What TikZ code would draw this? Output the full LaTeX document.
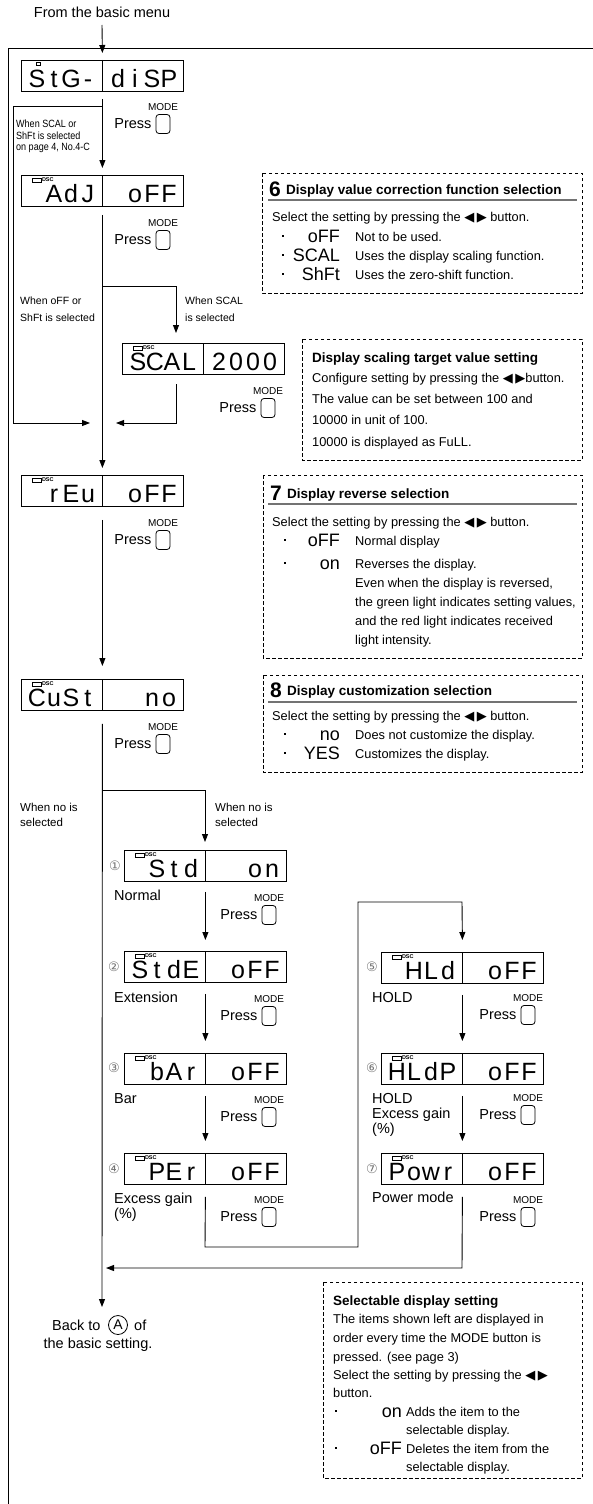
\documentclass[tikz,border=0pt]{standalone}
\usepackage{fontspec}
\usepackage{graphicx}
\setmainfont{Liberation Sans}
\newfontfamily\djv{DejaVu Sans}
\usetikzlibrary{arrows.meta,calc}
\newcommand\fsz[1]{\fontsize{#1pt}{#1pt}\selectfont}
\newcommand\sg[4]{\makebox[17pt]{#1}\makebox[17pt]{#2}\makebox[17pt]{#3}\makebox[17pt]{#4}}
\newcommand\lr{{\djv\fsz{13}◀\hspace{2.5pt}▶}}
\tikzset{
  ln/.style={line width=0.9pt},
  arr/.style={line width=0.9pt,-{Triangle[length=8pt,width=6pt]}},
  dispbox/.style={draw,line width=0.8pt,minimum width=162pt,minimum height=31pt,inner sep=0pt,anchor=north west},
  segtxt/.style={inner sep=0pt,font=\fsz{25},anchor=base},
  segsm/.style={inner sep=0pt,font=\fsz{18},anchor=base east},
  btn/.style={draw,line width=0.8pt,rounded corners=3pt,minimum width=14pt,minimum height=19pt,inner sep=0pt},
  modelbl/.style={inner sep=0pt,font=\fsz{10}},
  presslbl/.style={inner sep=0pt,font=\fsz{14.5},anchor=east},
  lbl/.style={inner sep=0pt,font=\fsz{14.5},anchor=base west},
  small/.style={inner sep=0pt,font=\fsz{10.5},anchor=base west},
  smallc/.style={inner sep=0pt,font=\fsz{10.5},anchor=base west},
  bt/.style={inner sep=0pt,font=\fsz{12.8},anchor=base west},
  bth/.style={inner sep=0pt,font=\fsz{13.5}\bfseries,anchor=base west},
  num/.style={inner sep=0pt,font=\fsz{21}\bfseries,anchor=base west},
  dbox/.style={draw,line width=0.8pt,dash pattern=on 3.5pt off 2.5pt},
  dot/.style={fill,inner sep=0pt,minimum size=2.4pt},
  circnum/.style={inner sep=0pt,font=\djv\fsz{13},text=black!55},
  dsc/.style={inner sep=0pt,font=\fsz{5.5}\bfseries,anchor=west},
  uline/.style={line width=1.3pt,black!55},
}
\newcommand\disp[6]{%
  \node[dispbox] (#1) at (#2,#3) {};
  \draw[line width=0.8pt] ($(#1.north west)+(81,0)$) -- ($(#1.south west)+(81,0)$);
  \node[segtxt] (#1L) at ($(#1.north west)+(41.5,27)$) {\sg#4};
  \node[segtxt] (#1R) at ($(#1.north west)+(122.5,27)$) {\sg#5};
  \ifnum#6=1
    \draw[line width=0.6pt] ($(#1.north west)+(11,3)$) rectangle ($(#1.north west)+(20,7)$);
    \node[dsc] (#1D) at ($(#1.north west)+(20.8,4.8)$) {DSC};
  \fi
}
\newcommand\press[3]{%
  \node[btn] (#1) at (#2,#3) {};
  \node[modelbl] (#1m) at ($(#1)+(0,-17)$) {MODE};
  \node[presslbl] (#1p) at ($(#1.west)+(-4,0)$) {Press};
}
\begin{document}
\begin{tikzpicture}[x=1pt,y=-1pt]
\useasboundingbox (0,0) rectangle (593,1504);
% frame
\coordinate (fbl) at (8,1510);
\coordinate (ftl) at (8,48);
\coordinate (ftr) at (600,48);
\draw[ln] (fbl) -- (ftl) -- (ftr);

\node[lbl,anchor=base] (from) at (102,18) {From the basic menu};
\coordinate (top) at (102,25);

% ---------------- main column displays
\disp{d1}{21}{60}{{S}{t}{G}{-}}{{d}{i}{S}{P}}{0}
\draw[line width=0.6pt] (36,62) rectangle (40,65.5);
\disp{d2}{21}{175}{{}{A}{d}{J}}{{}{o}{F}{F}}{1}
\disp{d3}{122}{343}{{S}{C}{A}{L}}{{2}{0}{0}{0}}{1}
\disp{d4}{21}{475}{{}{r}{E}{u}}{{}{o}{F}{F}}{1}
\disp{d5}{21}{679}{{C}{u}{S}{t}}{{}{}{n}{o}}{1}

\press{p1}{163}{124}
\press{p2}{163}{240}
\press{p3}{268}{408}
\press{p4}{163}{540}
\press{p5}{163}{744}

\draw[arr] (top) -- ($(d1.north)+(0,-7)$);
\draw[arr] ($(d1.south)+(0,7)$) -- ($(d2.north)+(0,-7)$);
\coordinate (bl1) at (102,106);
\coordinate (bl2) at (13,106);
\coordinate (bl3) at (13,423);
\coordinate (bl4) at (90,423);
\draw[arr] (bl1) -- (bl2) -- (bl3) -- (bl4);
\node[smallc] (w1) at (16,127.5) {\scalebox{0.86}[1]{When SCAL or}};
\node[smallc] (w2) at (16,139) {\scalebox{0.86}[1]{ShFt is selected}};
\node[smallc] (w3) at (16,150.5) {\scalebox{0.86}[1]{on page 4, No.4-C}};

\draw[arr] ($(d2.south)+(0,8)$) -- ($(d4.north)+(0,-7)$);
\coordinate (sb1) at (102,286);
\coordinate (sb2) at (176,286);
\coordinate (sb3) at (176,333);
\draw[arr] (sb1) -- (sb2) -- (sb3);
\node[small] (w4) at (20,304) {When oFF or};
\node[small] (w5) at (20,321) {ShFt is selected};
\node[small] (w6) at (185,304) {When SCAL};
\node[small] (w7) at (185,321) {is selected};
\coordinate (sm1) at (176,384);
\coordinate (sm2) at (176,423);
\coordinate (sm3) at (116,423);
\draw[arr] (sm1) -- (sm2) -- (sm3);

\draw[arr] ($(d4.south)+(0,13)$) -- ($(d5.north)+(0,-13)$);
\coordinate (mb) at (102,1307);
\draw[arr] ($(d5.south)+(0,13)$) -- (mb);

% ---------------- box 6
\draw[dbox] (262,173) rectangle (582,293);
\node[num] (h6n) at (269,196) {6};
\node[bth] (h6) at (286,194) {Display value correction function selection};
\draw[uline] (268,200) -- (577,200);
\node[bt] (s6) at (272,221) {Select the setting by pressing the \lr{} button.};
\node[dot] (b61) at (283,236) {};
\node[segsm] (g61) at (340,242) {oFF};
\node[bt] (t61) at (355,241) {Not to be used.};
\node[dot] (b62) at (283,255) {};
\node[segsm] (g62) at (340,261) {SCAL};
\node[bt] (t62) at (355,260) {Uses the display scaling function.};
\node[dot] (b63) at (283,274) {};
\node[segsm] (g63) at (340,280) {ShFt};
\node[bt] (t63) at (355,279) {Uses the zero-shift function.};

% ---------------- scaling box
\draw[dbox] (302,339) rectangle (582,460);
\node[bth] (hs) at (312,362) {Display scaling target value setting};
\node[bt] (s1) at (312,382) {Configure setting by pressing the \lr{}button.};
\node[bt] (s2) at (312,403) {The value can be set between 100 and};
\node[bt] (s3) at (312,424) {10000 in unit of 100.};
\node[bt] (s4) at (312,446) {10000 is displayed as FuLL.};

% ---------------- box 7
\draw[dbox] (263,475) rectangle (582,658);
\node[num] (h7n) at (270,500) {7};
\node[bth] (h7) at (287,498) {Display reverse selection};
\draw[uline] (268,504) -- (577,504);
\node[bt] (s71) at (272,526) {Select the setting by pressing the \lr{} button.};
\node[dot] (b71) at (285,540) {};
\node[segsm] (g71) at (340,546) {oFF};
\node[bt] (t71) at (355,545) {Normal display};
\node[dot] (b72) at (285,563) {};
\node[segsm] (g72) at (340,569) {on};
\node[bt] (t72) at (355,568) {Reverses the display.};
\node[bt] (t73) at (355,587) {Even when the display is reversed,};
\node[bt] (t74) at (355,606) {the green light indicates setting values,};
\node[bt] (t75) at (355,625) {and the red light indicates received};
\node[bt] (t76) at (355,644) {light intensity.};

% ---------------- box 8
\draw[dbox] (263,675) rectangle (582,772);
\node[num] (h8n) at (270,697) {8};
\node[bth] (h8) at (287,695) {Display customization selection};
\draw[uline] (268,702) -- (577,702);
\node[bt] (s81) at (272,720) {Select the setting by pressing the \lr{} button.};
\node[dot] (b81) at (285,734) {};
\node[segsm] (g81) at (340,740) {no};
\node[bt] (t81) at (355,739) {Does not customize the display.};
\node[dot] (b82) at (285,753) {};
\node[segsm] (g82) at (340,759) {YES};
\node[bt] (t82) at (355,758) {Customizes the display.};

% ---------------- customization branch
\coordinate (nb1) at (102,790);
\coordinate (nb2) at (205,790);
\coordinate (nb3) at (205,842);
\draw[arr] (nb1) -- (nb2) -- (nb3);
\node[small,font=\fsz{11.5}] (w8) at (20,811) {When no is};
\node[small,font=\fsz{11.5}] (w9) at (20,826) {selected};
\node[small,font=\fsz{11.5}] (w10) at (215,811) {When no is};
\node[small,font=\fsz{11.5}] (w11) at (215,826) {selected};

% column B
\disp{d6}{124}{850}{{}{S}{t}{d}}{{}{}{o}{n}}{1}
\disp{d7}{124}{951}{{S}{t}{d}{E}}{{}{o}{F}{F}}{1}
\disp{d8}{124}{1053}{{}{b}{A}{r}}{{}{o}{F}{F}}{1}
\disp{d9}{124}{1153}{{}{P}{E}{r}}{{}{o}{F}{F}}{1}
\node[circnum] (c1) at (115,866) {①};
\node[circnum] (c2) at (114,967) {②};
\node[circnum] (c3) at (114,1068) {③};
\node[circnum] (c4) at (114,1169) {④};
\node[lbl] (l1) at (114,900) {Normal};
\node[lbl] (l2) at (114,1002) {Extension};
\node[lbl] (l3) at (114,1103) {Bar};
\node[lbl] (l4) at (114,1203) {Excess gain};
\node[lbl] (l4b) at (114,1218) {(\%)};
\press{p6}{269}{915}
\press{p7}{269}{1016}
\press{p8}{269}{1117}
\press{p9}{269}{1217}
\draw[arr] ($(d6.south)+(0,10)$) -- ($(d7.north)+(0,-11)$);
\draw[arr] ($(d7.south)+(0,11)$) -- ($(d8.north)+(0,-12)$);
\draw[arr] ($(d8.south)+(0,11)$) -- ($(d9.north)+(0,-12)$);

% column C
\disp{d10}{381}{952}{{}{H}{L}{d}}{{}{o}{F}{F}}{1}
\disp{d11}{381}{1053}{{H}{L}{d}{P}}{{}{o}{F}{F}}{1}
\disp{d12}{381}{1153}{{P}{o}{w}{r}}{{}{o}{F}{F}}{1}
\node[circnum] (c5) at (372,967) {⑤};
\node[circnum] (c6) at (372,1068) {⑥};
\node[circnum] (c7) at (372,1169) {⑦};
\node[lbl] (l5) at (372,1002) {HOLD};
\node[lbl] (l6) at (372,1103) {HOLD};
\node[lbl] (l6b) at (372,1118) {Excess gain};
\node[lbl] (l6c) at (372,1133) {(\%)};
\node[lbl] (l7) at (372,1202) {Power mode};
\press{p10}{528}{1015}
\press{p11}{528}{1115}
\press{p12}{528}{1217}
\draw[arr] ($(d10.south)+(0,11)$) -- ($(d11.north)+(0,-12)$);
\draw[arr] ($(d11.south)+(0,11)$) -- ($(d12.north)+(0,-12)$);
\coordinate (rt1) at (462,1268);
\coordinate (rt2) at (106,1268);
\draw[arr] ($(d12.south)+(0,12)$) -- (rt1) -- (rt2);

% loop from column B to column C
\coordinate (lp0) at (205,1247);
\coordinate (lp1) at (358,1247);
\coordinate (lp2) at (358,902);
\coordinate (lp3) at (462,902);
\draw[arr] ($(d9.south)+(0,12)$) -- (lp0) -- (lp1) -- (lp2) -- (lp3) -- ($(d10.north)+(0,-12)$);

% back to A
\node[lbl] (bk1) at (52,1330) {Back to};
\node[draw,circle,line width=0.8pt,minimum size=19pt,inner sep=0pt,font=\fsz{14}] (cA) at (118,1325) {A};
\node[lbl] (bk2) at (134,1330) {of};
\node[lbl,anchor=base] (bk3) at (98,1348) {the basic setting.};

% ---------------- selectable box
\draw[dbox] (323,1282) rectangle (582,1478);
\node[bth] (hsel) at (333,1305) {Selectable display setting};
\node[bt] (se1) at (333,1323) {The items shown left are displayed in};
\node[bt] (se2) at (333,1342) {order every time the MODE button is};
\node[bt] (se3) at (333,1361) {pressed. (see page 3)};
\node[bt] (se4) at (333,1379) {Select the setting by pressing the \lr};
\node[bt] (se5) at (333,1397) {button.};
\node[dot] (bs1) at (336,1411) {};
\node[segsm] (gs1) at (402,1417) {on};
\node[bt] (ts1) at (406,1416) {Adds the item to the};
\node[bt] (ts2) at (406,1434) {selectable display.};
\node[dot] (bs2) at (336,1448) {};
\node[segsm] (gs2) at (402,1454) {oFF};
\node[bt] (ts3) at (406,1453) {Deletes the item from the};
\node[bt] (ts4) at (406,1471) {selectable display.};
\end{tikzpicture}
\end{document}
